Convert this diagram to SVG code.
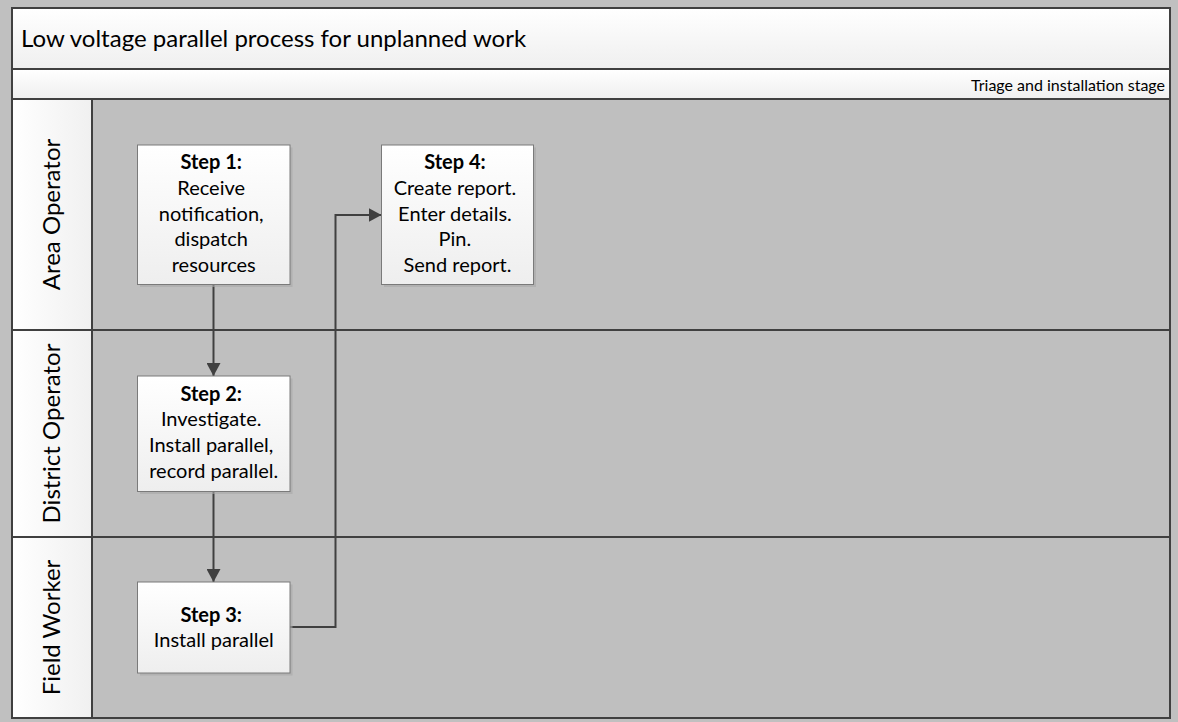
<svg xmlns="http://www.w3.org/2000/svg" width="1178" height="722" viewBox="0 0 1178 722">
  <style>
    .frame { fill: none; stroke: #404040; stroke-width: 2; }
    .rule { stroke: #404040; stroke-width: 2; fill: none; }
    .lane { fill: #bfbfbf; }
    .label-cell { fill: url(#labelGrad); }
    .node-box { fill: url(#nodeGrad); stroke: #7a7a7a; stroke-width: 1; }
    .node-shadow { fill: #a9a9a9; opacity: 0.6; }
    .node-text { font-family: Lato, "Open Sans", sans-serif; font-size: 20px; fill: #000; text-anchor: middle; }
    .node-text .head { font-weight: bold; }
    .lane-text { font-family: Lato, "Open Sans", sans-serif; font-size: 24px; fill: #000; text-anchor: middle; }
    .title-text { font-family: Lato, "Open Sans", sans-serif; font-size: 24px; fill: #000; }
    .stage-text { font-family: Lato, "Open Sans", sans-serif; font-size: 16px; fill: #000; text-anchor: end; }
    .conn { fill: none; stroke: #404040; stroke-width: 2; }
  </style>
  <defs>
    <linearGradient id="headGrad" x1="0" y1="0" x2="0" y2="1">
      <stop offset="0" stop-color="#ffffff"/>
      <stop offset="1" stop-color="#efefef"/>
    </linearGradient>
    <linearGradient id="labelGrad" x1="0" y1="0" x2="1" y2="0">
      <stop offset="0" stop-color="#ffffff"/>
      <stop offset="1" stop-color="#f0f0f0"/>
    </linearGradient>
    <linearGradient id="nodeGrad" x1="0" y1="0" x2="0" y2="1">
      <stop offset="0" stop-color="#ffffff"/>
      <stop offset="1" stop-color="#eeeeee"/>
    </linearGradient>
    <marker id="arrow" markerUnits="userSpaceOnUse" markerWidth="14" markerHeight="14" refX="13" refY="7" orient="auto">
      <path d="M0,0 L13,7 L0,14 z" fill="#404040"/>
    </marker>
  </defs>

  <!-- page background -->
  <rect x="0" y="0" width="1178" height="722" fill="#c0c0c0"/>

  <!-- pool header -->
  <g id="pool-title">
    <rect x="12" y="8" width="1158" height="61" fill="url(#headGrad)"/>
    <text class="title-text" x="21" y="47">Low voltage parallel process for unplanned work</text>
  </g>
  <g id="phase-header">
    <rect x="12" y="69" width="1158" height="30" fill="url(#headGrad)"/>
    <text class="stage-text" x="1165" y="90.5">Triage and installation stage</text>
  </g>

  <!-- swimlanes -->
  <g id="lane-area-operator">
    <rect class="lane" x="92" y="99" width="1078" height="231"/>
    <rect class="label-cell" x="12" y="99" width="80" height="231"/>
    <text class="lane-text" transform="translate(60,214.5) rotate(-90)">Area Operator</text>
  </g>
  <g id="lane-district-operator">
    <rect class="lane" x="92" y="330" width="1078" height="207"/>
    <rect class="label-cell" x="12" y="330" width="80" height="207"/>
    <text class="lane-text" transform="translate(60,433.5) rotate(-90)">District Operator</text>
  </g>
  <g id="lane-field-worker">
    <rect class="lane" x="92" y="537" width="1078" height="181"/>
    <rect class="label-cell" x="12" y="537" width="80" height="181"/>
    <text class="lane-text" transform="translate(60,627.5) rotate(-90)">Field Worker</text>
  </g>

  <!-- grid lines -->
  <g id="grid">
    <line class="rule" x1="12" y1="69" x2="1170" y2="69"/>
    <line class="rule" x1="12" y1="99" x2="1170" y2="99"/>
    <line class="rule" x1="12" y1="330" x2="1170" y2="330"/>
    <line class="rule" x1="12" y1="537" x2="1170" y2="537"/>
    <line class="rule" x1="92" y1="99" x2="92" y2="718"/>
    <rect class="frame" x="12" y="8" width="1158" height="710"/>
  </g>

  <!-- connectors -->
  <g id="connectors">
    <path class="conn" d="M213.5,284.5 V376" marker-end="url(#arrow)"/>
    <path class="conn" d="M213.5,492 V582" marker-end="url(#arrow)"/>
    <path class="conn" d="M290,627 H335.5 V215 H381.5" marker-end="url(#arrow)"/>
  </g>

  <!-- process steps -->
  <g id="step-1">
    <rect class="node-shadow" x="140" y="147.5" width="152.5" height="139.5"/>
    <rect class="node-box" x="137.5" y="145" width="152.5" height="139.5"/>
    <text class="node-text">
      <tspan class="head" x="213.75" y="169">Step 1:</tspan>
      <tspan x="213.75" y="195">Receive</tspan>
      <tspan x="213.75" y="220.5">notification,</tspan>
      <tspan x="213.75" y="246">dispatch</tspan>
      <tspan x="213.75" y="271.5">resources</tspan>
    </text>
  </g>
  <g id="step-2">
    <rect class="node-shadow" x="140" y="378.5" width="152.5" height="115.5"/>
    <rect class="node-box" x="137.5" y="376" width="152.5" height="115.5"/>
    <text class="node-text">
      <tspan class="head" x="213.75" y="400.5">Step 2:</tspan>
      <tspan x="213.75" y="426">Investigate.</tspan>
      <tspan x="213.75" y="452">Install parallel,</tspan>
      <tspan x="213.75" y="477.5">record parallel.</tspan>
    </text>
  </g>
  <g id="step-3">
    <rect class="node-shadow" x="140" y="584.5" width="152.5" height="91"/>
    <rect class="node-box" x="137.5" y="582" width="152.5" height="91"/>
    <text class="node-text">
      <tspan class="head" x="213.75" y="621.5">Step 3:</tspan>
      <tspan x="213.75" y="647">Install parallel</tspan>
    </text>
  </g>
  <g id="step-4">
    <rect class="node-shadow" x="384" y="147.5" width="152" height="139.5"/>
    <rect class="node-box" x="381.5" y="145" width="152" height="139.5"/>
    <text class="node-text">
      <tspan class="head" x="457.5" y="169">Step 4:</tspan>
      <tspan x="457.5" y="195">Create report.</tspan>
      <tspan x="457.5" y="220.5">Enter details.</tspan>
      <tspan x="457.5" y="246">Pin.</tspan>
      <tspan x="457.5" y="271.5">Send report.</tspan>
    </text>
  </g>
</svg>
